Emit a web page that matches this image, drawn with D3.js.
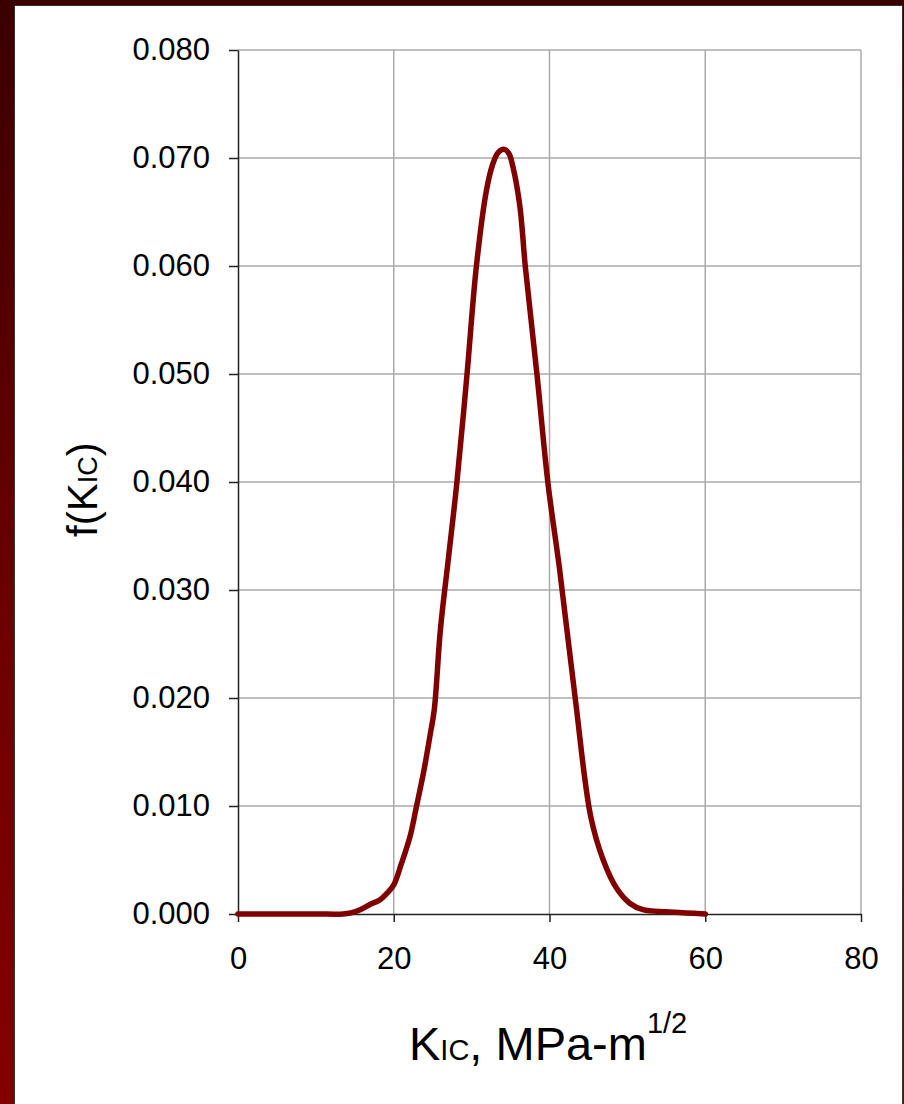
<!DOCTYPE html>
<html>
<head>
<meta charset="utf-8">
<script src="https://cdn.jsdelivr.net/npm/d3@7"></script>
<style>
  html, body { margin: 0; padding: 0; background: #fff; }
  svg { display: block; }
  text { font-family: "Liberation Sans", Arial, sans-serif; }
</style>
</head>
<body>
<svg id="chart" width="904" height="1104"></svg>
<script>
// Data
const kIC = [0, 5, 10, 13.5, 14.5, 15.7, 17, 18.2, 19.1, 20.0, 21.0, 22.1, 22.9, 23.8, 24.7, 25.2, 26.0, 27.0, 28.1, 29.4, 30.6, 31.9, 32.7, 33.4, 34.2, 34.8, 35.3, 36.2, 36.9, 38.4, 39.8, 41.3, 43.3, 45.3, 46.9, 48.6, 50.3, 52.0, 55.0, 57.5, 60];
const fK  = [0, 0, 0, 0, 0.0001, 0.0004, 0.0009, 0.0013, 0.0019, 0.0027, 0.0047, 0.0072, 0.0099, 0.0130, 0.0167, 0.0189, 0.0264, 0.0328, 0.0399, 0.0499, 0.0599, 0.0670, 0.0694, 0.0705, 0.0708, 0.0704, 0.0692, 0.0655, 0.0599, 0.0499, 0.0399, 0.0319, 0.0200, 0.0090, 0.0050, 0.0024, 0.0010, 0.0004, 0.0002, 0.0001, 0];
const xTicks = [0, 20, 40, 60, 80];
const yTicks = [0, 0.01, 0.02, 0.03, 0.04, 0.05, 0.06, 0.07, 0.08];

const svg = d3.select("#chart");
const W = 904, H = 1104;

// background frame
const defs = svg.append("defs");
const grad = defs.append("linearGradient").attr("id", "bg").attr("x1", 0).attr("y1", 0).attr("x2", 0).attr("y2", 1);
grad.append("stop").attr("offset", "0%").attr("stop-color", "#3a0000");
grad.append("stop").attr("offset", "60%").attr("stop-color", "#700000");
grad.append("stop").attr("offset", "100%").attr("stop-color", "#840000");
svg.append("rect").attr("x", 0).attr("y", 0).attr("width", W).attr("height", H).attr("fill", "url(#bg)");
svg.append("rect").attr("x", 14.5).attr("y", 5.5).attr("width", 888).attr("height", 1100)
   .attr("fill", "#fff").attr("stroke", "#333").attr("stroke-width", 1);

const x = d3.scaleLinear().domain([0, 80]).range([238, 861]);
const y = d3.scaleLinear().domain([0, 0.08]).range([914, 50]);

// gridlines
const grid = svg.append("g");
grid.selectAll(".hg").data(yTicks.filter(d => d > 0)).join("line")
  .attr("x1", x(0)).attr("x2", x(80))
  .attr("y1", d => y(d)).attr("y2", d => y(d))
  .attr("stroke", "#aaa").attr("stroke-width", 1.5);
grid.selectAll(".vg").data(xTicks.filter(d => d > 0)).join("line")
  .attr("x1", d => x(d)).attr("x2", d => x(d))
  .attr("y1", y(0.08)).attr("y2", y(0))
  .attr("stroke", "#aaa").attr("stroke-width", 1.5);

// axes
const yAxis = svg.append("g").attr("transform", `translate(${x(0)},0)`)
  .call(d3.axisLeft(y).tickValues(yTicks).tickFormat(d3.format(".3f")).tickSize(9).tickPadding(19).tickSizeOuter(0));
const xAxis = svg.append("g").attr("transform", `translate(0,${y(0)})`)
  .call(d3.axisBottom(x).tickValues(xTicks).tickFormat(d3.format("d")).tickSize(8).tickPadding(25).tickSizeOuter(0));
[yAxis, xAxis].forEach(a => {
  a.select(".domain").attr("stroke", "#222").attr("stroke-width", 1.5);
  a.selectAll(".tick line").attr("stroke", "#222").attr("stroke-width", 1.5);
  a.selectAll(".tick text").attr("fill", "#000").style("font-size", "31px")
    .style("font-family", "'Liberation Sans', Arial, sans-serif");
});

// curve
const line = d3.line().x((d, i) => x(kIC[i])).y(d => Math.min(y(d), y(0))).curve(d3.curveCatmullRom.alpha(0.5));
svg.append("path").datum(fK).attr("d", line)
  .attr("fill", "none").attr("stroke", "#800000").attr("stroke-width", 5.5)
  .attr("stroke-linejoin", "round").attr("stroke-linecap", "round");

// x axis title
const xt = svg.append("text").attr("x", 409).attr("y", 1060).attr("fill", "#000").style("font-size", "47px");
xt.append("tspan").text("K");
xt.append("tspan").style("font-size", "29px").text("IC");
xt.append("tspan").text(", MPa-m");
xt.append("tspan").attr("dy", -27).style("font-size", "29px").text("1/2");

// y axis title
const yt = svg.append("text").attr("transform", "translate(97,537) rotate(-90)")
  .attr("fill", "#000").style("font-size", "42px");
yt.append("tspan").text("f(K");
yt.append("tspan").style("font-size", "27px").text("IC");
yt.append("tspan").text(")");
</script>
</body>
</html>
